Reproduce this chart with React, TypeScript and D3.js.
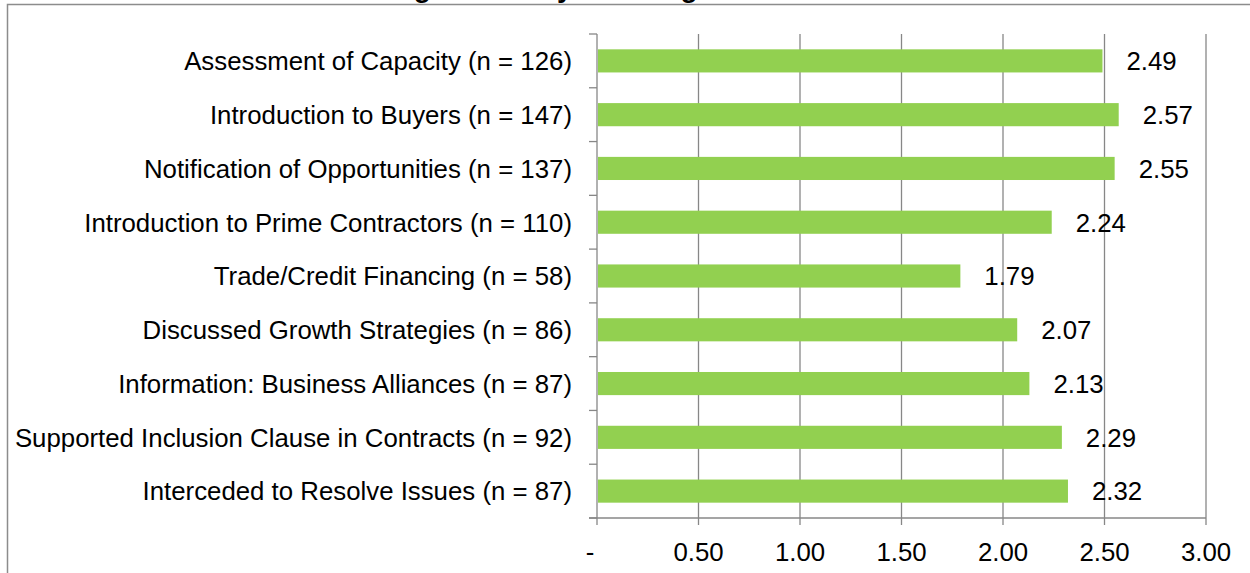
import { useEffect, useRef } from "react";
import * as d3 from "d3";

const categories = [
  "Assessment of Capacity (n = 126)",
  "Introduction to Buyers (n = 147)",
  "Notification of Opportunities (n = 137)",
  "Introduction to Prime Contractors (n = 110)",
  "Trade/Credit Financing (n = 58)",
  "Discussed Growth Strategies (n = 86)",
  "Information: Business Alliances (n = 87)",
  "Supported Inclusion Clause in Contracts (n = 92)",
  "Interceded to Resolve Issues (n = 87)",
];
const values = [2.49, 2.57, 2.55, 2.24, 1.79, 2.07, 2.13, 2.29, 2.32];
const xTicks = [0, 0.5, 1, 1.5, 2, 2.5, 3];
const xTickLabels = ["-", "0.50", "1.00", "1.50", "2.00", "2.50", "3.00"];
const title = "Average Score by Advising Area";

export default function App() {
  const ref = useRef<HTMLDivElement>(null);

  useEffect(() => {
    const container = d3.select(ref.current);
    container.selectAll("*").remove();

    const width = 1250;
    const height = 573;
    const plot = { left: 597, right: 1206, top: 34, bottom: 518 };
    const font = "'Liberation Sans', Arial, sans-serif";
    const fontSize = 25.8;
    const grey = "#878787";

    const svg = container
      .append("svg")
      .attr("width", width)
      .attr("height", height)
      .style("display", "block")
      .style("background", "#fff");

    const x = d3.scaleLinear().domain([0, 3]).range([plot.left, plot.right]);
    const y = d3
      .scaleBand()
      .domain(categories)
      .range([plot.top, plot.bottom])
      .paddingInner(0.57)
      .paddingOuter(0.285);

    // chart title, mostly cut off at the top of the picture (as in the source)
    svg
      .append("text")
      .attr("x", 337)
      .attr("y", -3)
      .attr("font-family", font)
      .attr("font-weight", "bold")
      .attr("font-size", 28)
      .text(title);

    // outer frame
    svg
      .append("path")
      .attr("d", `M7.5,${height} V4.5 H${width}`)
      .attr("fill", "none")
      .attr("stroke", "#8c8c8c")
      .attr("stroke-width", 1.5);

    // gridlines
    svg
      .append("g")
      .selectAll("line")
      .data(xTicks.slice(1))
      .enter()
      .append("line")
      .attr("x1", (d) => x(d))
      .attr("x2", (d) => x(d))
      .attr("y1", plot.top)
      .attr("y2", plot.bottom)
      .attr("stroke", grey)
      .attr("stroke-width", 1.3);

    // bars
    svg
      .append("g")
      .selectAll("rect")
      .data(values)
      .enter()
      .append("rect")
      .attr("x", x(0) + 1)
      .attr("y", (_, i) => y(categories[i]) as number)
      .attr("width", (d) => x(d) - x(0) - 1)
      .attr("height", y.bandwidth())
      .attr("fill", "#92D050");

    // value labels
    svg
      .append("g")
      .selectAll("text")
      .data(values)
      .enter()
      .append("text")
      .attr("x", (d) => x(d) + 24)
      .attr("y", (_, i) => (y(categories[i]) as number) + y.bandwidth() / 2)
      .attr("dy", "0.36em")
      .attr("font-family", font)
      .attr("font-size", fontSize)
      .attr("fill", "#000")
      .text((d) => d.toFixed(2));

    // category axis
    const step = y.step();
    const yAxis = svg.append("g");
    yAxis
      .append("line")
      .attr("x1", plot.left)
      .attr("x2", plot.left)
      .attr("y1", plot.top)
      .attr("y2", plot.bottom)
      .attr("stroke", grey)
      .attr("stroke-width", 1.3);
    yAxis
      .selectAll("line.tick")
      .data(d3.range(categories.length + 1))
      .enter()
      .append("line")
      .attr("class", "tick")
      .attr("x1", plot.left - 8)
      .attr("x2", plot.left)
      .attr("y1", (i) => plot.top + i * step)
      .attr("y2", (i) => plot.top + i * step)
      .attr("stroke", grey)
      .attr("stroke-width", 1.3);
    yAxis
      .selectAll("text")
      .data(categories)
      .enter()
      .append("text")
      .attr("x", plot.left - 25)
      .attr("y", (d) => (y(d) as number) + y.bandwidth() / 2)
      .attr("dy", "0.36em")
      .attr("text-anchor", "end")
      .attr("font-family", font)
      .attr("font-size", fontSize)
      .text((d) => d);

    // value axis
    const xAxis = svg.append("g");
    xAxis
      .append("line")
      .attr("x1", plot.left - 8)
      .attr("x2", plot.right)
      .attr("y1", plot.bottom)
      .attr("y2", plot.bottom)
      .attr("stroke", grey)
      .attr("stroke-width", 1.3);
    xAxis
      .selectAll("line.tick")
      .data(xTicks)
      .enter()
      .append("line")
      .attr("class", "tick")
      .attr("x1", (d) => x(d))
      .attr("x2", (d) => x(d))
      .attr("y1", plot.bottom)
      .attr("y2", plot.bottom + 7)
      .attr("stroke", grey)
      .attr("stroke-width", 1.3);
    xAxis
      .selectAll("text")
      .data(xTicks)
      .enter()
      .append("text")
      .attr("x", (d, i) => x(d) - (i === 0 ? 7 : 0))
      .attr("y", 561)
      .attr("text-anchor", "middle")
      .attr("font-family", font)
      .attr("font-size", fontSize)
      .text((_, i) => xTickLabels[i]);
  }, []);

  return <div ref={ref} style={{ position: "absolute", left: 0, top: 0 }} />;
}
